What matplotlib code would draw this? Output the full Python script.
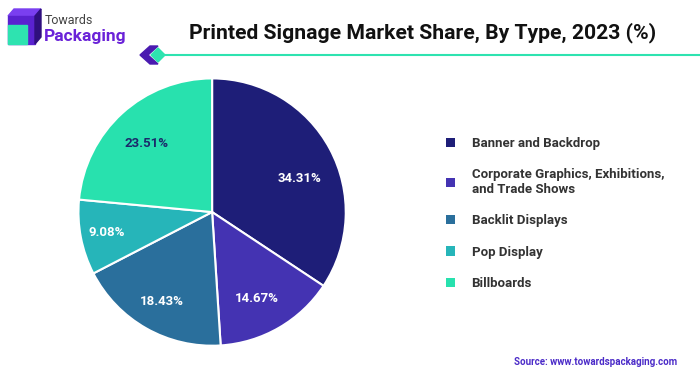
import matplotlib.pyplot as plt
from matplotlib.patches import Polygon, Patch
import numpy as np

# data
categories = ["Banner and Backdrop",
              "Corporate Graphics, Exhibitions,\nand Trade Shows",
              "Backlit Displays", "Pop Display", "Billboards"]
shares = [34.31, 14.67, 18.43, 9.08, 23.51]
colors = ["#1e1e78", "#4433b2", "#2a6f9c", "#26b5b9", "#28e1ae"]
label_colors = ["white", "white", "white", "white", "#1b2a6b"]
label_dist = [0.70, 0.73, 0.77, 0.80, 0.71]
label_shift = [-7.5, -3, 0, 0, 1.5]  # degrees, nudges label off the wedge middle

plt.rcParams["font.family"] = ["Roboto", "DejaVu Sans"]

fig = plt.figure(figsize=(7, 3.76), dpi=100)
fig.patch.set_facecolor("white")

# pie
ax = fig.add_axes([0.110, 0.077, 0.386, 0.718])
wedges, _ = ax.pie(shares, colors=colors, startangle=90, counterclock=False,
                   radius=1, wedgeprops=dict(edgecolor="white", linewidth=1.5))
for w, val, tc, d, s in zip(wedges, shares, label_colors, label_dist, label_shift):
    mid = np.deg2rad((w.theta1 + w.theta2) / 2 + s)
    ax.text(d * np.cos(mid), d * np.sin(mid), f"{val:.2f}%", ha="center", va="center",
            color=tc, fontsize=9.5, fontweight="bold")
ax.set_xlim(-1.01, 1.01)
ax.set_ylim(-1.01, 1.01)
ax.set_aspect("equal")
ax.axis("off")

# legend
handles = [Patch(facecolor=c, edgecolor="none") for c in colors]
leg = fig.legend(handles, categories, loc="upper left", bbox_to_anchor=(0.620, 0.667),
                 frameon=False, handlelength=0.7, handleheight=0.7, handletextpad=1.25,
                 labelspacing=1.38, prop=dict(size=9.5, weight="semibold"))
for t in leg.get_texts():
    t.set_color("#333333")

# header decorations in pixel coords
deco = fig.add_axes([0, 0, 1, 1], zorder=-1)
deco.set_xlim(0, 700)
deco.set_ylim(376, 0)
deco.axis("off")
deco.add_patch(Polygon([(8, 16), (14, 9), (41, 9), (35, 16)], color="#7a3ff0"))
deco.add_patch(Polygon([(8, 16), (35, 16), (35, 44), (8, 44)], color="#5a22d0"))
deco.add_patch(Polygon([(35, 16), (41, 9), (41, 37), (35, 44)], color="#2f0f7e"))
deco.add_patch(Polygon([(8, 25), (27, 25), (27, 44), (8, 44)], color="#2ee3b0"))
deco.text(45, 21, "Towards", fontsize=9, color="#444444", va="center")
deco.text(44, 36, "Packaging", fontsize=12.5, color="#6a22d8", fontweight="bold", va="center")

deco.add_patch(Polygon([(150, 46), (158, 46), (148, 55), (158, 64), (150, 64), (140, 55)],
                       color="#4a1ab0"))
deco.add_patch(Polygon([(158, 48), (165, 55), (158, 62), (151, 55)], color="#2ee3b0"))
deco.plot([165, 700], [55, 55], color="#2ee3b0", lw=1.5)

fig.text(0.603, 0.913, "Printed Signage Market Share, By Type, 2023 (%)", ha="center",
         va="center", fontsize=15.2, fontweight="bold", color="#111111")
fig.text(0.967, 0.038, "Source: www.towardspackaging.com", ha="right", va="center",
         fontsize=7, fontweight="bold", color="#4b2bc8")

fig.savefig("out.png", dpi=100, facecolor="white")
